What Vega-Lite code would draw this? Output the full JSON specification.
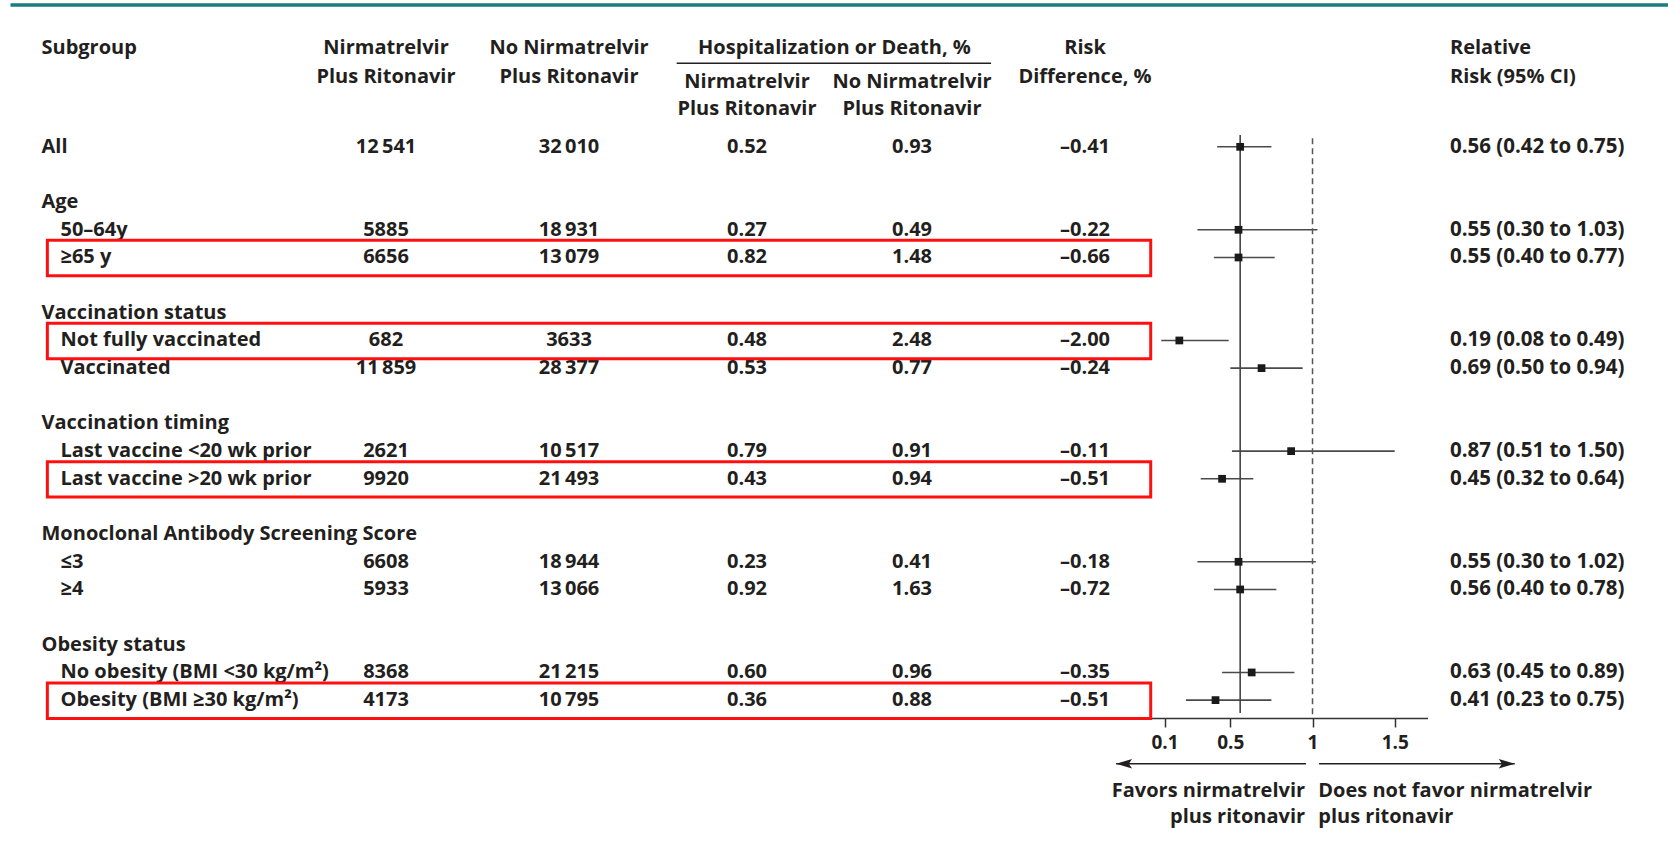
{
  "$schema": "https://vega.github.io/schema/vega-lite/v6.json",
  "width": 1668,
  "height": 852,
  "autosize": {"type": "none"},
  "padding": 0,
  "background": "white",
  "config": {
    "view": {"stroke": null},
    "font": "Open Sans",
    "text": {"font": "Open Sans", "fontSize": 20, "fontWeight": 700, "color": "#231f20", "baseline": "middle"}
  },
  "datasets": {
    "rows": [
      {"row": 0, "label": "All", "level": 0, "n_t": 12541, "n_c": 32010, "p_t": 0.52, "p_c": 0.93, "rd": -0.41, "rr": 0.56, "lo": 0.42, "hi": 0.75, "hl": false},
      {"row": 2, "label": "Age", "level": 0, "hl": false},
      {"row": 3, "label": "50–64y", "level": 1, "n_t": 5885, "n_c": 18931, "p_t": 0.27, "p_c": 0.49, "rd": -0.22, "rr": 0.55, "lo": 0.30, "hi": 1.03, "hl": false},
      {"row": 4, "label": "≥65 y", "level": 1, "n_t": 6656, "n_c": 13079, "p_t": 0.82, "p_c": 1.48, "rd": -0.66, "rr": 0.55, "lo": 0.40, "hi": 0.77, "hl": true},
      {"row": 6, "label": "Vaccination status", "level": 0, "hl": false},
      {"row": 7, "label": "Not fully vaccinated", "level": 1, "n_t": 682, "n_c": 3633, "p_t": 0.48, "p_c": 2.48, "rd": -2.00, "rr": 0.19, "lo": 0.08, "hi": 0.49, "hl": true},
      {"row": 8, "label": "Vaccinated", "level": 1, "n_t": 11859, "n_c": 28377, "p_t": 0.53, "p_c": 0.77, "rd": -0.24, "rr": 0.69, "lo": 0.50, "hi": 0.94, "hl": false},
      {"row": 10, "label": "Vaccination timing", "level": 0, "hl": false},
      {"row": 11, "label": "Last vaccine <20 wk prior", "level": 1, "n_t": 2621, "n_c": 10517, "p_t": 0.79, "p_c": 0.91, "rd": -0.11, "rr": 0.87, "lo": 0.51, "hi": 1.50, "hl": false},
      {"row": 12, "label": "Last vaccine >20 wk prior", "level": 1, "n_t": 9920, "n_c": 21493, "p_t": 0.43, "p_c": 0.94, "rd": -0.51, "rr": 0.45, "lo": 0.32, "hi": 0.64, "hl": true},
      {"row": 14, "label": "Monoclonal Antibody Screening Score", "level": 0, "hl": false},
      {"row": 15, "label": "≤3", "level": 1, "n_t": 6608, "n_c": 18944, "p_t": 0.23, "p_c": 0.41, "rd": -0.18, "rr": 0.55, "lo": 0.30, "hi": 1.02, "hl": false},
      {"row": 16, "label": "≥4", "level": 1, "n_t": 5933, "n_c": 13066, "p_t": 0.92, "p_c": 1.63, "rd": -0.72, "rr": 0.56, "lo": 0.40, "hi": 0.78, "hl": false},
      {"row": 18, "label": "Obesity status", "level": 0, "hl": false},
      {"row": 19, "label": "No obesity (BMI <30 kg/m²)", "level": 1, "n_t": 8368, "n_c": 21215, "p_t": 0.60, "p_c": 0.96, "rd": -0.35, "rr": 0.63, "lo": 0.45, "hi": 0.89, "hl": false},
      {"row": 20, "label": "Obesity (BMI ≥30 kg/m²)", "level": 1, "n_t": 4173, "n_c": 10795, "p_t": 0.36, "p_c": 0.88, "rd": -0.51, "rr": 0.41, "lo": 0.23, "hi": 0.75, "hl": true}
    ],
    "headers": [
      {"text": "Subgroup", "key": "subgroup", "tier": "top", "line": 1},
      {"text": "Nirmatrelvir", "key": "n_t", "tier": "top", "line": 1},
      {"text": "Plus Ritonavir", "key": "n_t", "tier": "top", "line": 2},
      {"text": "No Nirmatrelvir", "key": "n_c", "tier": "top", "line": 1},
      {"text": "Plus Ritonavir", "key": "n_c", "tier": "top", "line": 2},
      {"text": "Hospitalization or Death, %", "key": "hosp", "tier": "top", "line": 1},
      {"text": "Nirmatrelvir", "key": "p_t", "tier": "sub", "line": 1},
      {"text": "Plus Ritonavir", "key": "p_t", "tier": "sub", "line": 2},
      {"text": "No Nirmatrelvir", "key": "p_c", "tier": "sub", "line": 1},
      {"text": "Plus Ritonavir", "key": "p_c", "tier": "sub", "line": 2},
      {"text": "Risk", "key": "rd", "tier": "top", "line": 1},
      {"text": "Difference, %", "key": "rd", "tier": "top", "line": 2},
      {"text": "Relative", "key": "rr", "tier": "top", "line": 1},
      {"text": "Risk (95% CI)", "key": "rr", "tier": "top", "line": 2}
    ],
    "arrows": [
      {"dir": "left", "start": 0.96, "tip": -0.195},
      {"dir": "right", "start": 1.04, "tip": 2.23}
    ],
    "notes": [
      {"text": "Favors nirmatrelvir", "side": "left", "line": 1},
      {"text": "plus ritonavir", "side": "left", "line": 2},
      {"text": "Does not favor nirmatrelvir", "side": "right", "line": 1},
      {"text": "plus ritonavir", "side": "right", "line": 2}
    ]
  },
  "layer": [
    {
      "layer": [
        {
          "data": {"values": [{}]},
          "mark": {"type": "rule", "color": "#177e7c", "strokeWidth": 3.5},
          "encoding": {
            "x": {"datum": -0.09, "type": "quantitative", "scale": {"domain": [0, 1, 2, 3, 4, 5, 6], "range": [41.5, 386, 569, 747, 912, 1085, 1450], "nice": false, "zero": false}, "axis": null},
            "x2": {"datum": 6.7},
            "y": {"datum": -5.127, "type": "quantitative", "scale": {"domain": [-5.307, 25.49], "reverse": true, "nice": false, "zero": false}, "axis": null}
          }
        },
        {
          "data": {"values": [{}]},
          "mark": {"type": "rule", "color": "#231f20", "strokeWidth": 1.5},
          "encoding": {
            "x": {"datum": 2.605, "type": "quantitative", "scale": {"domain": [0, 1, 2, 3, 4, 5, 6], "range": [41.5, 386, 569, 747, 912, 1085, 1450], "nice": false, "zero": false}, "axis": null},
            "x2": {"datum": 4.457},
            "y": {"datum": -3.02, "type": "quantitative", "scale": {"domain": [-5.307, 25.49], "reverse": true, "nice": false, "zero": false}, "axis": null}
          }
        },
        {
          "data": {"name": "headers"},
          "transform": [
            {"calculate": "datum.key == 'hosp' ? 3.53 : indexof(['subgroup','n_t','n_c','p_t','p_c','rd','rr'], datum.key)", "as": "col"},
            {"calculate": "datum.tier == 'sub' ? -2.35 + (datum.line - 1) * 0.99 : -3.58 + (datum.line - 1) * 1.04", "as": "hrow"},
            {"filter": "datum.key != 'subgroup' && datum.key != 'rr'"}
          ],
          "mark": {"type": "text", "align": "center", "baseline": "middle", "font": "Open Sans", "fontSize": 20, "fontWeight": 700, "color": "#231f20"},
          "encoding": {
            "x": {"field": "col", "type": "quantitative", "scale": {"domain": [0, 1, 2, 3, 4, 5, 6], "range": [41.5, 386, 569, 747, 912, 1085, 1450], "nice": false, "zero": false}, "axis": null},
            "y": {"field": "hrow", "type": "quantitative", "scale": {"domain": [-5.307, 25.49], "reverse": true, "nice": false, "zero": false}, "axis": null},
            "text": {"field": "text"}
          }
        },
        {
          "data": {"name": "headers"},
          "transform": [
            {"calculate": "indexof(['subgroup','n_t','n_c','p_t','p_c','rd','rr'], datum.key)", "as": "col"},
            {"calculate": "-3.58 + (datum.line - 1) * 1.04", "as": "hrow"},
            {"filter": "datum.key == 'subgroup' || datum.key == 'rr'"}
          ],
          "mark": {"type": "text", "align": "left", "baseline": "middle", "font": "Open Sans", "fontSize": 20, "fontWeight": 700, "color": "#231f20"},
          "encoding": {
            "x": {"field": "col", "type": "quantitative", "scale": {"domain": [0, 1, 2, 3, 4, 5, 6], "range": [41.5, 386, 569, 747, 912, 1085, 1450], "nice": false, "zero": false}, "axis": null},
            "y": {"field": "hrow", "type": "quantitative", "scale": {"domain": [-5.307, 25.49], "reverse": true, "nice": false, "zero": false}, "axis": null},
            "text": {"field": "text"}
          }
        },
        {
          "data": {"name": "rows"},
          "transform": [{"filter": "datum.level == 0"}],
          "mark": {"type": "text", "align": "left", "baseline": "middle", "font": "Open Sans", "fontSize": 20, "fontWeight": 700, "color": "#231f20"},
          "encoding": {
            "x": {"datum": 0, "type": "quantitative", "scale": {"domain": [0, 1, 2, 3, 4, 5, 6], "range": [41.5, 386, 569, 747, 912, 1085, 1450], "nice": false, "zero": false}, "axis": null},
            "y": {"field": "row", "type": "quantitative", "scale": {"domain": [-5.307, 25.49], "reverse": true, "nice": false, "zero": false}, "axis": null},
            "text": {"field": "label"}
          }
        },
        {
          "data": {"name": "rows"},
          "transform": [{"filter": "datum.level == 1"}],
          "mark": {"type": "text", "align": "left", "baseline": "middle", "dx": 19, "font": "Open Sans", "fontSize": 20, "fontWeight": 700, "color": "#231f20"},
          "encoding": {
            "x": {"datum": 0, "type": "quantitative", "scale": {"domain": [0, 1, 2, 3, 4, 5, 6], "range": [41.5, 386, 569, 747, 912, 1085, 1450], "nice": false, "zero": false}, "axis": null},
            "y": {"field": "row", "type": "quantitative", "scale": {"domain": [-5.307, 25.49], "reverse": true, "nice": false, "zero": false}, "axis": null},
            "text": {"field": "label"}
          }
        },
        {
          "data": {"name": "rows"},
          "transform": [
            {"fold": ["n_t", "n_c", "p_t", "p_c", "rd"], "as": ["key", "v"]},
            {"filter": "isValid(datum.v)"},
            {"calculate": "indexof(['n_t','n_c','p_t','p_c','rd'], datum.key) + 1", "as": "col"},
            {"calculate": "(datum.key == 'n_t' || datum.key == 'n_c') ? (datum.v >= 10000 ? replace(format(datum.v, ','), ',', '\u2009') : format(datum.v, 'd')) : (datum.key == 'rd' ? ((datum.v < 0 ? '\u2013' : '') + format(abs(datum.v), '.2f')) : format(datum.v, '.2f'))", "as": "lab"}
          ],
          "mark": {"type": "text", "align": "center", "baseline": "middle", "font": "Open Sans", "fontSize": 20, "fontWeight": 700, "color": "#231f20"},
          "encoding": {
            "x": {"field": "col", "type": "quantitative", "scale": {"domain": [0, 1, 2, 3, 4, 5, 6], "range": [41.5, 386, 569, 747, 912, 1085, 1450], "nice": false, "zero": false}, "axis": null},
            "y": {"field": "row", "type": "quantitative", "scale": {"domain": [-5.307, 25.49], "reverse": true, "nice": false, "zero": false}, "axis": null},
            "text": {"field": "lab"}
          }
        },
        {
          "data": {"name": "rows"},
          "transform": [
            {"filter": "isValid(datum.rr)"},
            {"calculate": "format(datum.rr, '.2f') + ' (' + format(datum.lo, '.2f') + ' to ' + format(datum.hi, '.2f') + ')'", "as": "rrlab"}
          ],
          "mark": {"type": "text", "align": "left", "baseline": "middle", "font": "Open Sans", "fontSize": 20.5, "fontWeight": 700, "color": "#231f20"},
          "encoding": {
            "x": {"datum": 6, "type": "quantitative", "scale": {"domain": [0, 1, 2, 3, 4, 5, 6], "range": [41.5, 386, 569, 747, 912, 1085, 1450], "nice": false, "zero": false}, "axis": null},
            "y": {"field": "row", "type": "quantitative", "scale": {"domain": [-5.307, 25.49], "reverse": true, "nice": false, "zero": false}, "axis": null},
            "text": {"field": "rrlab"}
          }
        },
        {
          "data": {"name": "rows"},
          "transform": [
            {"filter": "datum.hl"},
            {"calculate": "datum.row - 0.62", "as": "ytop"},
            {"calculate": "datum.row + 0.66", "as": "ybot"}
          ],
          "mark": {"type": "rect", "filled": false, "stroke": "#ff1010", "strokeWidth": 3},
          "encoding": {
            "x": {"datum": 0.017, "type": "quantitative", "scale": {"domain": [0, 1, 2, 3, 4, 5, 6], "range": [41.5, 386, 569, 747, 912, 1085, 1450], "nice": false, "zero": false}, "axis": null},
            "x2": {"datum": 5.18},
            "y": {"field": "ytop", "type": "quantitative", "scale": {"domain": [-5.307, 25.49], "reverse": true, "nice": false, "zero": false}, "axis": null},
            "y2": {"field": "ybot"}
          }
        }
      ]
    },
    {
      "layer": [
        {
          "data": {"name": "rows"},
          "transform": [{"filter": "isValid(datum.rr)"}],
          "mark": {"type": "rule", "color": "#4a4a4a", "strokeWidth": 1.6},
          "encoding": {
            "x": {"field": "lo", "type": "quantitative", "title": null, "scale": {"domain": [0, 1.7], "range": [1148.1, 1427.6], "nice": false, "zero": false},
              "axis": {"orient": "bottom", "offset": -134, "values": [0.1, 0.5, 1, 1.5], "format": "~g", "title": null, "grid": false, "domainColor": "#333333", "domainWidth": 1.5, "tickColor": "#333333", "tickWidth": 1.5, "tickSize": 9, "labelFont": "Open Sans", "labelFontSize": 19, "labelFontWeight": 700, "labelColor": "#231f20", "labelPadding": 6}},
            "x2": {"field": "hi"},
            "y": {"field": "row", "type": "quantitative", "scale": {"domain": [-5.307, 25.49], "reverse": true, "nice": false, "zero": false}, "axis": null}
          }
        },
        {
          "data": {"name": "rows"},
          "transform": [{"filter": "datum.row == 0"}],
          "mark": {"type": "rule", "color": "#444444", "strokeWidth": 1.6},
          "encoding": {
            "x": {"field": "rr", "type": "quantitative", "title": null, "scale": {"domain": [0, 1.7], "range": [1148.1, 1427.6], "nice": false, "zero": false}},
            "y": {"datum": -0.43, "type": "quantitative", "scale": {"domain": [-5.307, 25.49], "reverse": true, "nice": false, "zero": false}, "axis": null},
            "y2": {"datum": 20.47}
          }
        },
        {
          "data": {"values": [{}]},
          "mark": {"type": "rule", "color": "#555555", "strokeWidth": 1.5, "strokeDash": [6, 4]},
          "encoding": {
            "x": {"datum": 1, "type": "quantitative", "title": null, "scale": {"domain": [0, 1.7], "range": [1148.1, 1427.6], "nice": false, "zero": false}},
            "y": {"datum": -0.31, "type": "quantitative", "scale": {"domain": [-5.307, 25.49], "reverse": true, "nice": false, "zero": false}, "axis": null},
            "y2": {"datum": 20.65}
          }
        },
        {
          "data": {"name": "rows"},
          "transform": [{"filter": "isValid(datum.rr)"}],
          "mark": {"type": "point", "shape": "square", "filled": true, "size": 60, "color": "#1a1a1a", "opacity": 1},
          "encoding": {
            "x": {"field": "rr", "type": "quantitative", "title": null, "scale": {"domain": [0, 1.7], "range": [1148.1, 1427.6], "nice": false, "zero": false}},
            "y": {"field": "row", "type": "quantitative", "scale": {"domain": [-5.307, 25.49], "reverse": true, "nice": false, "zero": false}, "axis": null}
          }
        },
        {
          "data": {"name": "arrows"},
          "mark": {"type": "rule", "color": "#231f20", "strokeWidth": 1.6},
          "encoding": {
            "x": {"field": "start", "type": "quantitative", "title": null, "scale": {"domain": [0, 1.7], "range": [1148.1, 1427.6], "nice": false, "zero": false}},
            "x2": {"field": "tip"},
            "y": {"datum": 22.3, "type": "quantitative", "scale": {"domain": [-5.307, 25.49], "reverse": true, "nice": false, "zero": false}, "axis": null}
          }
        },
        {
          "data": {"name": "arrows"},
          "mark": {"type": "point", "filled": true, "size": 256, "color": "#231f20", "opacity": 1},
          "encoding": {
            "x": {"field": "tip", "type": "quantitative", "title": null, "scale": {"domain": [0, 1.7], "range": [1148.1, 1427.6], "nice": false, "zero": false}},
            "y": {"datum": 22.3, "type": "quantitative", "scale": {"domain": [-5.307, 25.49], "reverse": true, "nice": false, "zero": false}, "axis": null},
            "shape": {"field": "dir", "type": "nominal", "scale": {"domain": ["left", "right"], "range": ["M0,0L2,-0.6L1.6,0L2,0.6Z", "M0,0L-2,-0.6L-1.6,0L-2,0.6Z"]}, "legend": null}
          }
        },
        {
          "data": {"name": "notes"},
          "transform": [
            {"filter": "datum.side == 'left'"},
            {"calculate": "23.27 + (datum.line - 1) * 0.96", "as": "nrow"}
          ],
          "mark": {"type": "text", "align": "right", "baseline": "middle", "font": "Open Sans", "fontSize": 20, "fontWeight": 700, "color": "#231f20"},
          "encoding": {
            "x": {"datum": 0.955, "type": "quantitative", "title": null, "scale": {"domain": [0, 1.7], "range": [1148.1, 1427.6], "nice": false, "zero": false}},
            "y": {"field": "nrow", "type": "quantitative", "scale": {"domain": [-5.307, 25.49], "reverse": true, "nice": false, "zero": false}, "axis": null},
            "text": {"field": "text"}
          }
        },
        {
          "data": {"name": "notes"},
          "transform": [
            {"filter": "datum.side == 'right'"},
            {"calculate": "23.27 + (datum.line - 1) * 0.96", "as": "nrow"}
          ],
          "mark": {"type": "text", "align": "left", "baseline": "middle", "font": "Open Sans", "fontSize": 20, "fontWeight": 700, "color": "#231f20"},
          "encoding": {
            "x": {"datum": 1.035, "type": "quantitative", "title": null, "scale": {"domain": [0, 1.7], "range": [1148.1, 1427.6], "nice": false, "zero": false}},
            "y": {"field": "nrow", "type": "quantitative", "scale": {"domain": [-5.307, 25.49], "reverse": true, "nice": false, "zero": false}, "axis": null},
            "text": {"field": "text"}
          }
        }
      ]
    }
  ],
  "resolve": {"scale": {"x": "independent"}}
}
